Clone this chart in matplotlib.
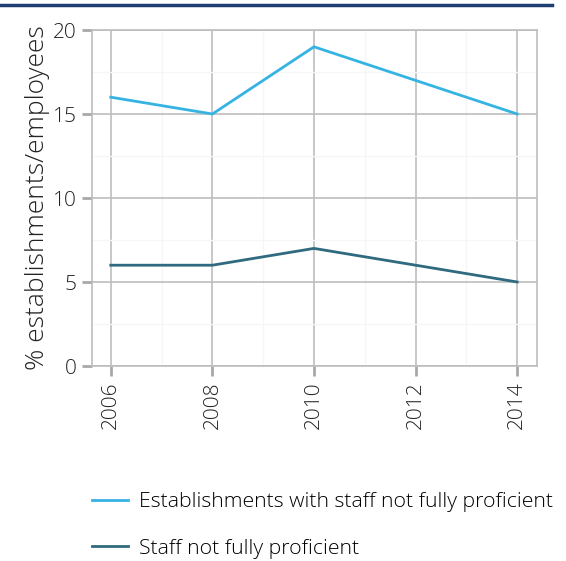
import matplotlib.pyplot as plt
from matplotlib.lines import Line2D

plt.rcParams['font.family'] = ['Open Sans', 'DejaVu Sans']

years = [2006, 2008, 2010, 2012, 2014]
establishments = [16, 15, 19, 17, 15]
staff = [6, 6, 7, 6, 5]
labels = ["Establishments with staff not fully proficient", "Staff not fully proficient"]
colors = ["#35b3e3", "#2f6a80"]

fig = plt.figure(figsize=(5.66, 5.61), dpi=100)

# navy rule across the top
fig.add_artist(Line2D([0, 552 / 566], [1 - 5 / 561, 1 - 5 / 561], color="#1f3f73", lw=2.5))

ax = fig.add_axes([92 / 566, 1 - 366 / 561, (537 - 92) / 566, (366 - 30) / 561])
ax.plot(years, establishments, color=colors[0], lw=2, label=labels[0])
ax.plot(years, staff, color=colors[1], lw=2, label=labels[1])

ax.set_xlim(2005.63, 2014.39)
ax.set_ylim(0, 20)
ax.set_xticks(years)
ax.set_xticks([2007, 2009, 2011, 2013], minor=True)
ax.set_yticks([0, 5, 10, 15, 20])
ax.set_yticks([2.5, 7.5, 12.5, 17.5], minor=True)
ax.set_xticklabels([str(y) for y in years], rotation=90)
ax.grid(which="major", color="#bdbdbd", lw=1.2)
ax.grid(which="minor", color="#f6f6f6", lw=1)
ax.set_axisbelow(True)
for s in ax.spines.values():
    s.set_color("#bdbdbd")
    s.set_linewidth(1.2)
ax.tick_params(which="major", length=7, width=2, color="#a8a8a8", labelsize=15, labelcolor="#222222", pad=4)
ax.tick_params(which="minor", length=0)
ax.set_ylabel("% establishments/employees", fontsize=19, color="#222222", labelpad=2, fontweight="light")

for lab in ax.get_xticklabels() + ax.get_yticklabels():
    lab.set_fontweight("light")

fig.legend(loc="upper left", bbox_to_anchor=(73 / 566, 1 - 473 / 561), frameon=False,
           handlelength=1.7, handletextpad=0.5, labelspacing=1.25,
           prop={"size": 15.3, "weight": "light"})

fig.savefig("out.png", dpi=100)
